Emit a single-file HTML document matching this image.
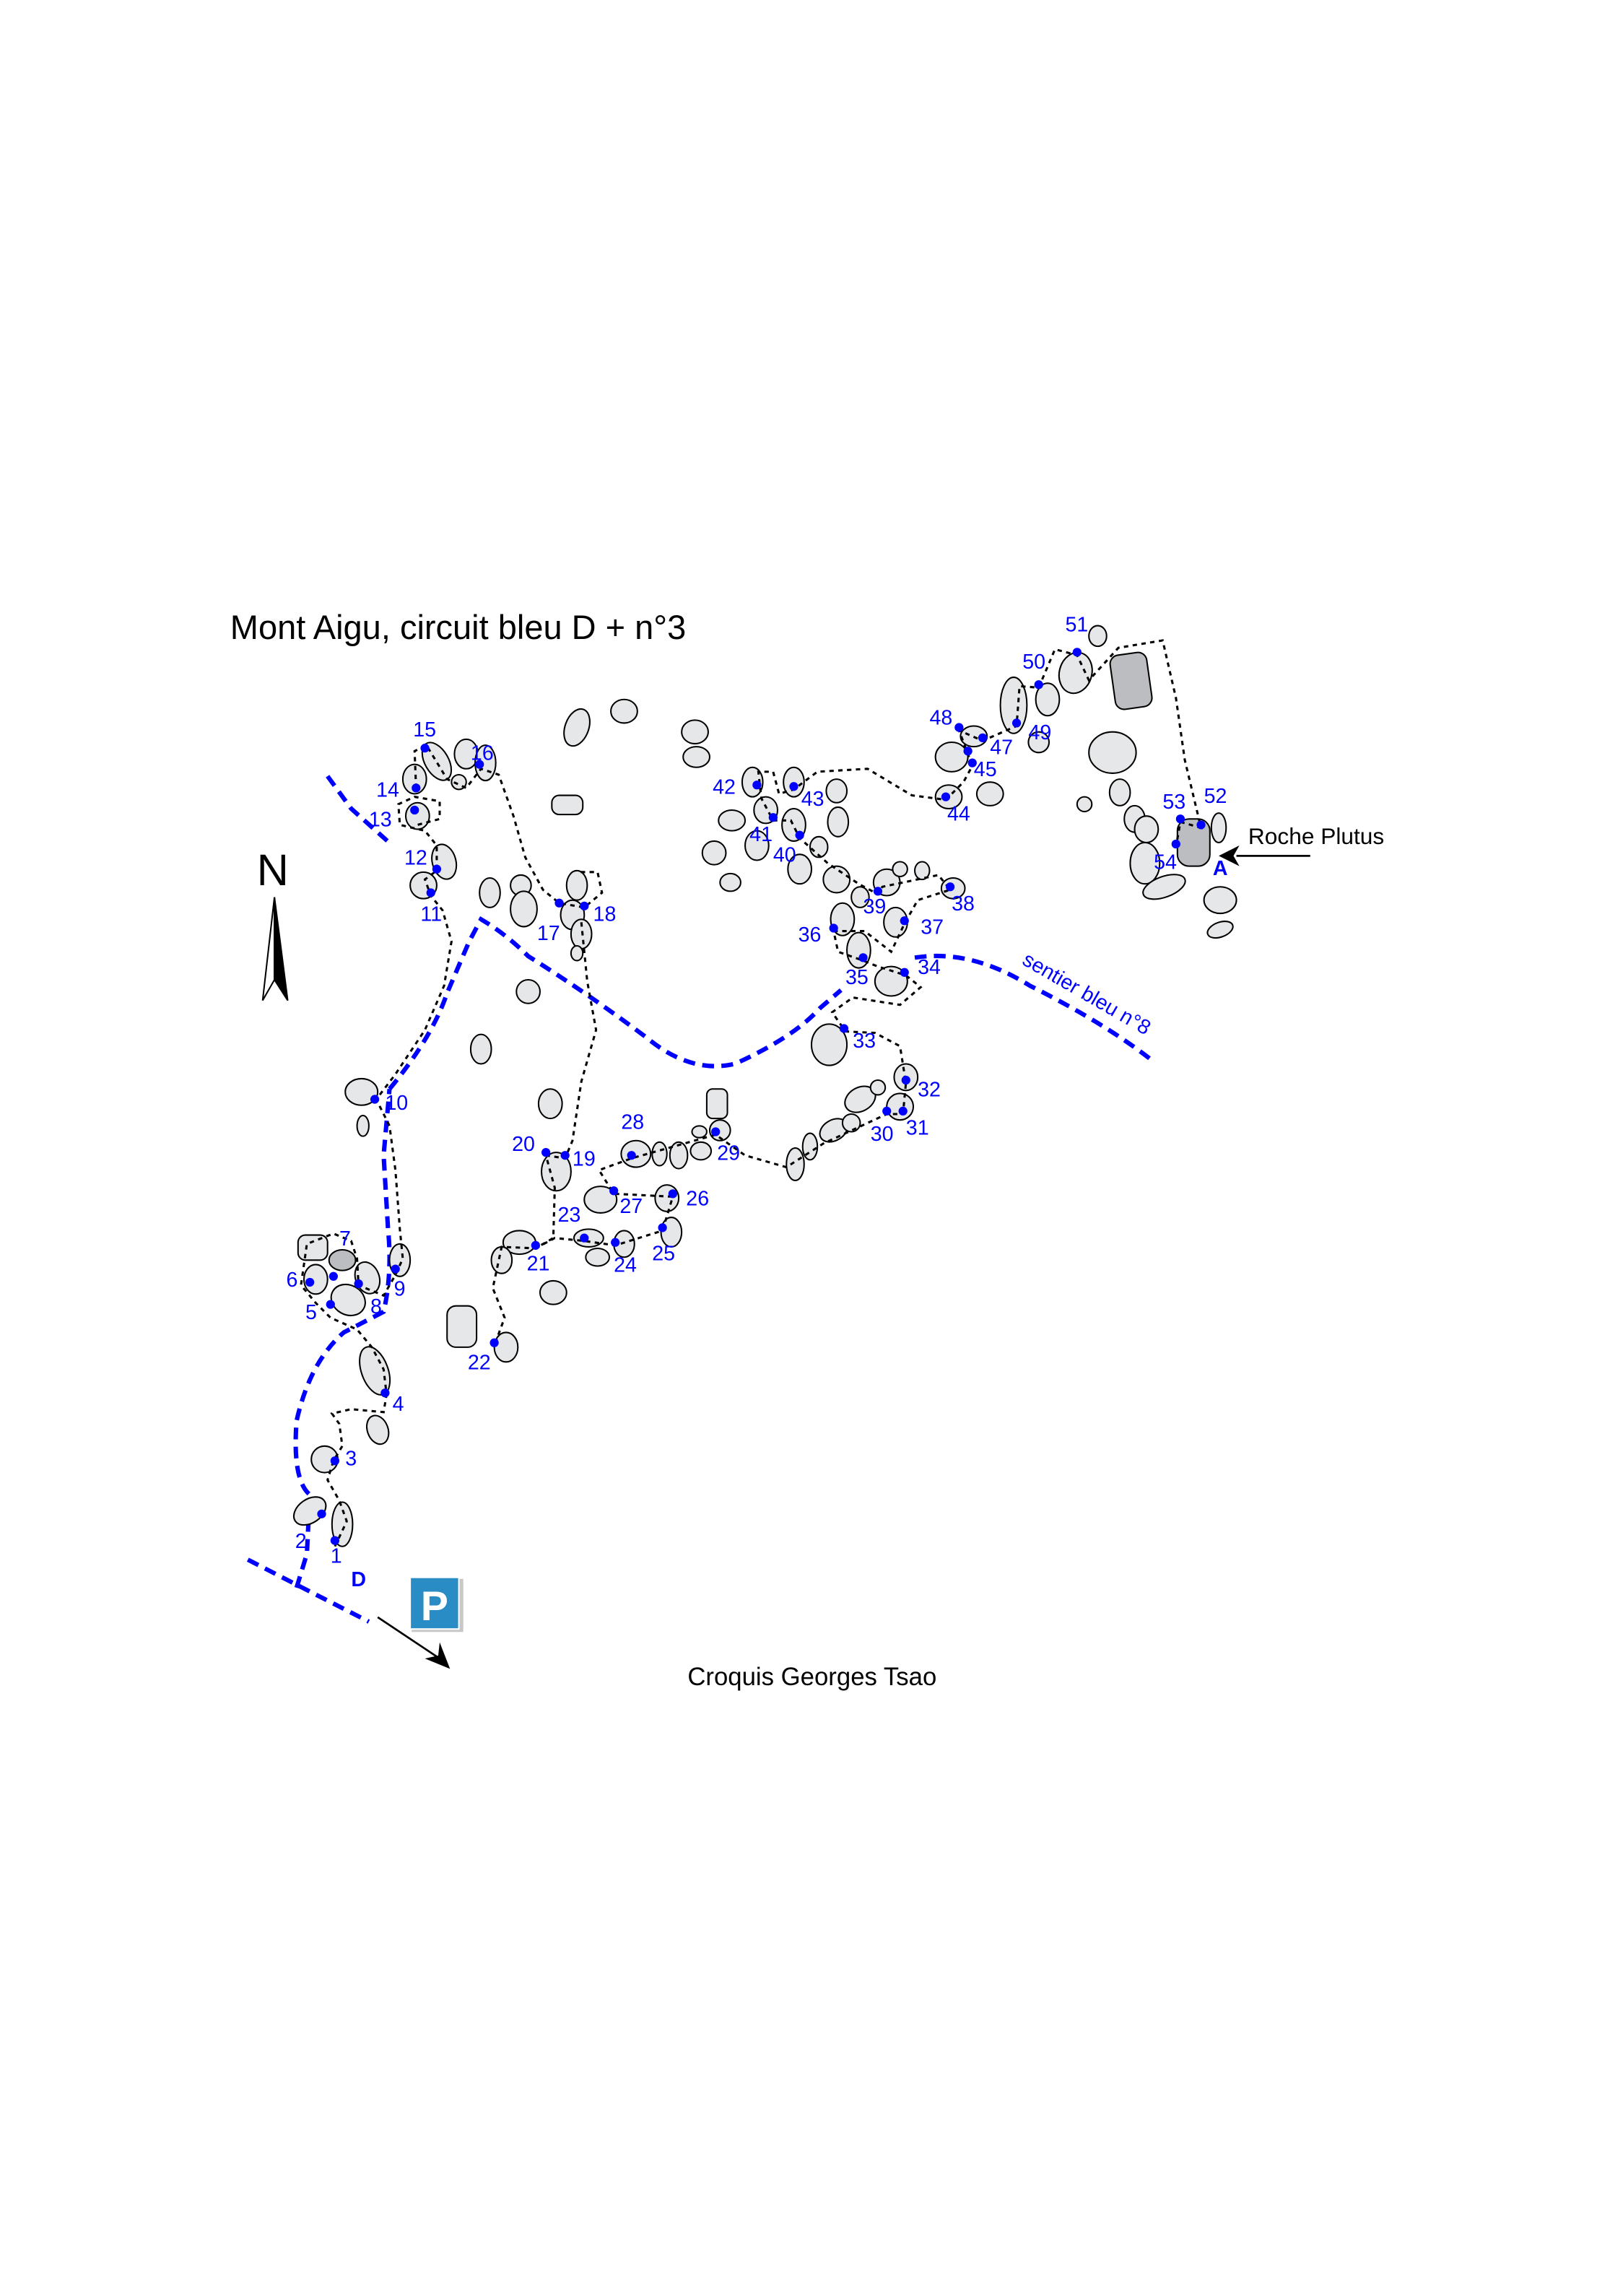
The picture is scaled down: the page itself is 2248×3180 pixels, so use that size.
<!DOCTYPE html>
<html><head><meta charset="utf-8"><style>
html,body{margin:0;padding:0;background:#fff;}
svg{display:block;}
.b{fill:#e6e7e8;stroke:#000;stroke-width:1;}
.d{fill:#bcbdc0;stroke:#000;stroke-width:1;}
.n{font-family:"Liberation Sans",sans-serif;font-size:14px;fill:#0000ff;}
.p{fill:#0000ff;}
</style></head><body>
<svg width="2248" height="3180" viewBox="0 0 1100 1556" xmlns="http://www.w3.org/2000/svg">
<rect width="1100" height="1556" fill="#fff"/>
<g transform="translate(-2,-4)">
<text x="158" y="437" font-family="Liberation Sans, sans-serif" font-size="23" fill="#000">Mont Aigu, circuit bleu D + n°3</text>
<text x="468" y="1146" font-family="Liberation Sans, sans-serif" font-size="17" fill="#000">Croquis Georges Tsao</text>
<text x="848" y="576" font-family="Liberation Sans, sans-serif" font-size="15.5" fill="#000">Roche Plutus</text>
<line x1="890" y1="584" x2="840" y2="584" stroke="#000" stroke-width="1.3"/>
<polygon points="828,584 842,577 838,584 842,591" fill="#000"/>
<text x="176" y="604" font-family="Liberation Sans, sans-serif" font-size="30" fill="#000">N</text>
<polygon points="188,612 180,682 188,668" fill="#fff" stroke="#000" stroke-width="1"/>
<polygon points="188,612 197,682 188,668" fill="#000" stroke="#000" stroke-width="1"/>
<rect x="281" y="1074" width="35" height="36" fill="#c8c8c8"/>
<rect x="280" y="1073" width="33" height="35" fill="#2a8cc4" stroke="#fff" stroke-width="1"/>
<text x="296.5" y="1102" text-anchor="middle" font-family="Liberation Sans, sans-serif" font-weight="bold" font-size="28" fill="#fff">P</text>
<line x1="258" y1="1100" x2="300" y2="1128" stroke="#000" stroke-width="1.3"/>
<polygon points="307,1135 290,1128 299,1126 300,1117" fill="#000"/>
</g>

<g transform="translate(-2,-7)">
<g fill="none" stroke="#0000ff" stroke-width="3" stroke-dasharray="8,5">
<path d="M170,1064 L205,1082 L252,1106"/>
<path d="M203,1083 L210,1060 L212,1020 Q200,1010 203,970 Q212,930 235,910 L262,896 Q268,870 265,840 L262,790 L266,745"/>
<path d="M266,745 Q295,710 305,680 L320,645 L328,630 Q345,640 360,655 Q400,680 440,710 Q470,735 500,728 Q540,710 558,690 L572,678"/>
<path d="M622,656 Q660,650 700,675 Q750,700 782,725"/>
<path d="M224,533 L240,555 L268,580"/>
</g>
<text x="694" y="660" transform="rotate(30 694 660)" class="n">sentier bleu n°8</text>

<g>
<ellipse class="b" cx="212" cy="1031" rx="12" ry="8" transform="rotate(-35 212 1031)"/>
<ellipse class="b" cx="234" cy="1040" rx="7" ry="15"/>
<ellipse class="b" cx="222" cy="996" rx="9" ry="9"/>
<ellipse class="b" cx="256" cy="936" rx="9" ry="17" transform="rotate(-20 256 936)"/>
<ellipse class="b" cx="258" cy="976" rx="7" ry="10" transform="rotate(-20 258 976)"/>
<rect class="b" x="204" y="844" width="20" height="17" rx="5"/>
<ellipse class="d" cx="234" cy="861" rx="9" ry="7"/>
<ellipse class="b" cx="216" cy="874" rx="8" ry="10"/>
<ellipse class="b" cx="238" cy="888" rx="12" ry="10" transform="rotate(30 238 888)"/>
<ellipse class="b" cx="251" cy="873" rx="8" ry="11" transform="rotate(-20 251 873)"/>
<ellipse class="b" cx="273" cy="861" rx="7" ry="11"/>
<ellipse class="b" cx="247" cy="747" rx="11" ry="9"/>
<ellipse class="b" cx="248" cy="770" rx="4" ry="7"/>
<ellipse class="b" cx="289" cy="607" rx="9" ry="9"/>
<ellipse class="b" cx="303" cy="591" rx="8" ry="12" transform="rotate(-15 303 591)"/>
<ellipse class="b" cx="285" cy="560" rx="8" ry="9"/>
<ellipse class="b" cx="283" cy="535" rx="8" ry="10"/>
<ellipse class="b" cx="298" cy="523" rx="8" ry="14" transform="rotate(-30 298 523)"/>
<ellipse class="b" cx="318" cy="518" rx="8" ry="10"/>
<ellipse class="b" cx="331" cy="524" rx="7" ry="12"/>
<ellipse class="b" cx="313" cy="537" rx="5" ry="5"/>
<ellipse class="b" cx="334" cy="612" rx="7" ry="10"/>
<ellipse class="b" cx="355" cy="607" rx="7" ry="7"/>
<ellipse class="b" cx="357" cy="623" rx="9" ry="12"/>
<ellipse class="b" cx="393" cy="607" rx="7" ry="10"/>
<ellipse class="b" cx="390" cy="627" rx="8" ry="10"/>
<ellipse class="b" cx="396" cy="640" rx="7" ry="10"/>
<ellipse class="b" cx="393" cy="653" rx="4" ry="5"/>
<ellipse class="b" cx="393" cy="500" rx="8" ry="13" transform="rotate(20 393 500)"/>
<ellipse class="b" cx="425" cy="489" rx="9" ry="8"/>
<ellipse class="b" cx="473" cy="503" rx="9" ry="8"/>
<ellipse class="b" cx="474" cy="520" rx="9" ry="7"/>
<rect class="b" x="376" y="546" width="21" height="13" rx="5"/>
<ellipse class="b" cx="360" cy="679" rx="8" ry="8"/>
<ellipse class="b" cx="328" cy="718" rx="7" ry="10"/>
<ellipse class="b" cx="375" cy="755" rx="8" ry="10"/>
<ellipse class="b" cx="379" cy="801" rx="10" ry="13"/>
<ellipse class="b" cx="354" cy="849" rx="11" ry="8"/>
<ellipse class="b" cx="342" cy="861" rx="7" ry="9"/>
<rect class="b" x="305" y="892" width="20" height="28" rx="6"/>
<ellipse class="b" cx="345" cy="920" rx="8" ry="10"/>
<ellipse class="b" cx="377" cy="883" rx="9" ry="8"/>
<ellipse class="b" cx="401" cy="846" rx="10" ry="6"/>
<ellipse class="b" cx="407" cy="859" rx="8" ry="6"/>
<ellipse class="b" cx="425" cy="850" rx="7" ry="9"/>
<ellipse class="b" cx="457" cy="842" rx="7" ry="10"/>
<ellipse class="b" cx="454" cy="819" rx="8" ry="9"/>
<ellipse class="b" cx="409" cy="820" rx="11" ry="9"/>
<ellipse class="b" cx="433" cy="789" rx="10" ry="9"/>
<ellipse class="b" cx="449" cy="789" rx="5" ry="8"/>
<ellipse class="b" cx="462" cy="790" rx="6" ry="9"/>
<ellipse class="b" cx="477" cy="787" rx="7" ry="6"/>
<ellipse class="b" cx="490" cy="773" rx="7" ry="7"/>
<rect class="b" x="481" y="745" width="14" height="20" rx="4"/>
<ellipse class="b" cx="476" cy="774" rx="5" ry="4"/>
<ellipse class="b" cx="541" cy="796" rx="6" ry="11"/>
<ellipse class="b" cx="551" cy="784" rx="5" ry="9"/>
<ellipse class="b" cx="567" cy="773" rx="10" ry="7" transform="rotate(-30 567 773)"/>
<ellipse class="b" cx="579" cy="768" rx="6" ry="6"/>
<ellipse class="b" cx="585" cy="752" rx="11" ry="8" transform="rotate(-30 585 752)"/>
<ellipse class="b" cx="597" cy="744" rx="5" ry="5"/>
<ellipse class="b" cx="612" cy="757" rx="9" ry="9"/>
<ellipse class="b" cx="616" cy="737" rx="8" ry="9"/>
<ellipse class="b" cx="564" cy="715" rx="12" ry="14"/>
<ellipse class="b" cx="584" cy="651" rx="8" ry="12"/>
<ellipse class="b" cx="573" cy="630" rx="8" ry="11"/>
<ellipse class="b" cx="606" cy="672" rx="11" ry="10"/>
<ellipse class="b" cx="609" cy="632" rx="8" ry="10"/>
<ellipse class="b" cx="648" cy="609" rx="8" ry="7"/>
<ellipse class="b" cx="603" cy="605" rx="9" ry="9"/>
<ellipse class="b" cx="585" cy="615" rx="6" ry="7"/>
<ellipse class="b" cx="612" cy="596" rx="5" ry="5"/>
<ellipse class="b" cx="627" cy="597" rx="5" ry="6"/>
<ellipse class="b" cx="569" cy="603" rx="9" ry="9"/>
<ellipse class="b" cx="512" cy="537" rx="7" ry="10"/>
<ellipse class="b" cx="540" cy="537" rx="7" ry="10"/>
<ellipse class="b" cx="569" cy="543" rx="7" ry="8"/>
<ellipse class="b" cx="570" cy="564" rx="7" ry="10"/>
<ellipse class="b" cx="521" cy="556" rx="8" ry="9"/>
<ellipse class="b" cx="498" cy="563" rx="9" ry="7"/>
<ellipse class="b" cx="540" cy="566" rx="8" ry="11"/>
<ellipse class="b" cx="544" cy="596" rx="8" ry="10"/>
<ellipse class="b" cx="486" cy="585" rx="8" ry="8"/>
<ellipse class="b" cx="497" cy="605" rx="7" ry="6"/>
<ellipse class="b" cx="515" cy="580" rx="8" ry="10"/>
<ellipse class="b" cx="557" cy="581" rx="6" ry="7"/>
<ellipse class="b" cx="645" cy="547" rx="9" ry="8"/>
<ellipse class="b" cx="673" cy="545" rx="9" ry="8"/>
<ellipse class="b" cx="647" cy="520" rx="11" ry="10"/>
<ellipse class="b" cx="662" cy="506" rx="9" ry="7"/>
<ellipse class="b" cx="689" cy="485" rx="9" ry="19"/>
<ellipse class="b" cx="706" cy="510" rx="7" ry="7"/>
<ellipse class="b" cx="712" cy="481" rx="8" ry="11"/>
<ellipse class="b" cx="731" cy="463" rx="11" ry="14" transform="rotate(15 731 463)"/>
<ellipse class="b" cx="746" cy="438" rx="6" ry="7"/>
<rect class="d" x="756" y="450" width="25" height="37" rx="6" transform="rotate(-8 768 468)"/>
<ellipse class="b" cx="756" cy="517" rx="16" ry="14"/>
<ellipse class="b" cx="761" cy="544" rx="7" ry="9"/>
<ellipse class="b" cx="737" cy="552" rx="5" ry="5"/>
<ellipse class="b" cx="771" cy="562" rx="7" ry="9"/>
<ellipse class="b" cx="779" cy="569" rx="8" ry="9"/>
<rect class="d" x="800" y="562" width="22" height="32" rx="8"/>
<ellipse class="b" cx="828" cy="568" rx="5" ry="10"/>
<ellipse class="b" cx="778" cy="592" rx="10" ry="14"/>
<ellipse class="b" cx="791" cy="608" rx="15" ry="7" transform="rotate(-20 791 608)"/>
<ellipse class="b" cx="829" cy="617" rx="11" ry="9"/>
<ellipse class="b" cx="829" cy="637" rx="9" ry="5" transform="rotate(-20 829 637)"/>
</g>

<path fill="none" stroke="#000" stroke-width="1.5" stroke-dasharray="3,3" d="M229,1055 L237,1038 L232,1024 L224,1010 L228,997 L234,987 L232,972 L227,965 L240,962 L262,964 L264,952 L262,935 L254,920 L244,908 L226,900 L216,890 L206,878 L210,850 L228,843 L240,848 L244,860 L245,878 L262,885 L270,871 L275,860 L273,840 L270,800 L266,770 L257,752 L270,735 L290,705 L303,675 L308,645 L302,624 L294,614 L290,603 L298,597 L298,580 L290,570 L273,566 L272,552 L283,547 L300,550 L300,562 L285,566 M284,541 L283,516 L291,512 L305,535 L318,541 L328,528 L340,532 L350,560 L358,588 L370,610 L381,619 L398,622 L410,612 L407,598 L395,598 M396,632 L400,672 L406,705 L396,740 L390,780 L385,792 L372,790 L378,812 L377,846 L365,853 L342,852 L336,880 L344,900 L337,919 M365,853 L378,846 L398,848 L419,851 L451,841 L458,818 L418,816 L408,800 L430,792 L487,776 L507,790 L535,798 L560,782 L603,762 L614,762 L616,741 L612,716 L595,707 L575,706 L566,693 L580,683 L612,688 L626,676 L616,668 L597,662 L587,658 L570,652 L567,638 L588,638 L606,652 L615,633 L624,617 L646,610 L638,600 L600,608 L597,613 L584,606 L563,592 L544,575 L538,563 L526,563 L518,548 L516,530 L526,530 L530,545 L540,542 L556,530 L590,528 L620,546 L643,549 L655,537 L661,526 L658,518 L652,502 L668,509 L691,499 L693,472 L706,473 L717,447 L732,451 L740,468 L760,446 L790,441 L799,480 L805,522 L816,568 L802,564 L799,581"/>

<g class="p">
<circle cx="229" cy="1051" r="3"/><circle cx="220" cy="1033" r="3"/><circle cx="229" cy="997" r="3"/><circle cx="263" cy="951" r="3"/>
<circle cx="226" cy="891" r="3"/><circle cx="212" cy="876" r="3"/><circle cx="228" cy="872" r="3"/><circle cx="245" cy="877" r="3"/><circle cx="270" cy="867" r="3"/>
<circle cx="256" cy="752" r="3"/><circle cx="294" cy="612" r="3"/><circle cx="298" cy="596" r="3"/><circle cx="283" cy="556" r="3"/><circle cx="284" cy="541" r="3"/>
<circle cx="290" cy="514" r="3"/><circle cx="327" cy="525" r="3"/><circle cx="381" cy="619" r="3"/><circle cx="398" cy="621" r="3"/>
<circle cx="385" cy="790" r="3"/><circle cx="372" cy="788" r="3"/><circle cx="365" cy="851" r="3"/><circle cx="337" cy="917" r="3"/>
<circle cx="398" cy="846" r="3"/><circle cx="419" cy="849" r="3"/><circle cx="451" cy="839" r="3"/><circle cx="458" cy="816" r="3"/><circle cx="418" cy="814" r="3"/>
<circle cx="430" cy="790" r="3"/><circle cx="487" cy="774" r="3"/><circle cx="603" cy="760" r="3"/><circle cx="614" cy="760" r="3"/><circle cx="616" cy="739" r="3"/>
<circle cx="574" cy="704" r="3"/><circle cx="615" cy="666" r="3"/><circle cx="587" cy="656" r="3"/><circle cx="567" cy="636" r="3"/><circle cx="615" cy="631" r="3"/>
<circle cx="646" cy="608" r="3"/><circle cx="597" cy="611" r="3"/><circle cx="544" cy="573" r="3"/><circle cx="526" cy="561" r="3"/><circle cx="515" cy="539" r="3"/>
<circle cx="540" cy="540" r="3"/><circle cx="643" cy="547" r="3"/><circle cx="661" cy="524" r="3"/><circle cx="658" cy="516" r="3"/><circle cx="668" cy="507" r="3"/>
<circle cx="652" cy="500" r="3"/><circle cx="691" cy="497" r="3"/><circle cx="706" cy="471" r="3"/><circle cx="732" cy="449" r="3"/>
<circle cx="816" cy="566" r="3"/><circle cx="802" cy="562" r="3"/><circle cx="799" cy="579" r="3"/>
</g>

<g class="n">
<text x="226" y="1066">1</text><text x="202" y="1056">2</text><text x="236" y="1000">3</text><text x="268" y="963">4</text>
<text x="209" y="901">5</text><text x="196" y="879">6</text><text x="232" y="851">7</text><text x="253" y="897">8</text><text x="269" y="885">9</text>
<text x="263" y="759">10</text><text x="287" y="631">11</text><text x="276" y="593">12</text><text x="252" y="567">13</text><text x="257" y="547">14</text>
<text x="282" y="506">15</text><text x="321" y="522">16</text><text x="366" y="644">17</text><text x="404" y="631">18</text>
<text x="390" y="797">19</text><text x="349" y="787">20</text><text x="359" y="868">21</text><text x="319" y="935">22</text>
<text x="380" y="835">23</text><text x="418" y="869">24</text><text x="444" y="861">25</text><text x="467" y="824">26</text><text x="422" y="829">27</text>
<text x="423" y="772">28</text><text x="488" y="793">29</text><text x="592" y="780">30</text><text x="616" y="776">31</text><text x="624" y="750">32</text>
<text x="580" y="717">33</text><text x="624" y="667">34</text><text x="575" y="674">35</text><text x="543" y="645">36</text><text x="626" y="640">37</text>
<text x="647" y="624">38</text><text x="587" y="626">39</text><text x="526" y="591">40</text><text x="510" y="577">41</text><text x="485" y="545">42</text>
<text x="545" y="553">43</text><text x="644" y="563">44</text><text x="662" y="533">45</text><text x="673" y="518">47</text><text x="632" y="498">48</text>
<text x="699" y="508">49</text><text x="695" y="460">50</text><text x="724" y="435">51</text><text x="818" y="551">52</text><text x="790" y="555">53</text><text x="784" y="596">54</text>
<text x="824" y="600" font-weight="bold">A</text><text x="240" y="1082" font-weight="bold">D</text>
</g>
</g>
</svg>
</body></html>
